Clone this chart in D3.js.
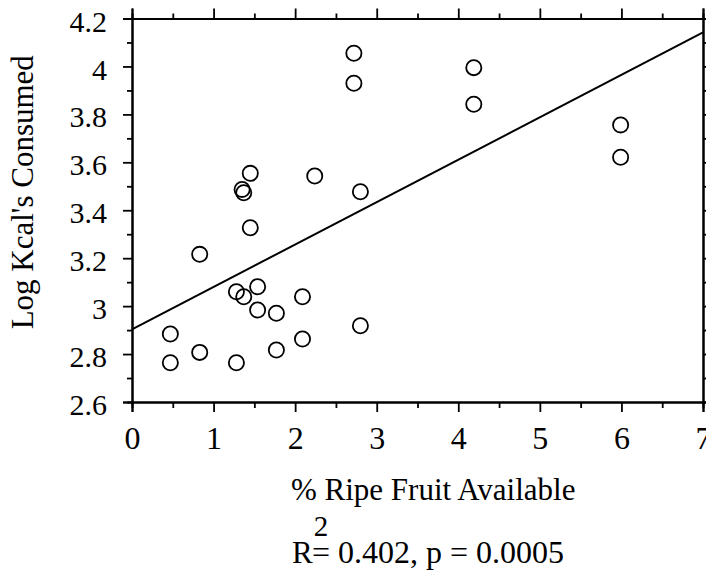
<!DOCTYPE html>
<html>
<head>
<meta charset="utf-8">
<script src="https://cdn.jsdelivr.net/npm/d3@7"></script>
<style>
  body { margin: 0; background: #fff; }
  text { font-family: "Liberation Serif", "Times New Roman", serif; fill: #000; }
</style>
</head>
<body>
<script>
var w = 706;
var h = 572;

// data
var fruit = [2.72, 2.72, 4.19, 4.19, 5.99, 5.99, 1.45, 1.35, 1.37, 2.24, 2.80, 1.45, 0.83,
             1.28, 1.37, 1.54, 1.54, 1.77, 2.09, 2.80, 0.47, 0.83, 0.47, 1.28, 1.77, 2.09];
var kcal  = [4.055, 3.930, 3.995, 3.842, 3.756, 3.621, 3.554, 3.487, 3.473, 3.543, 3.477, 3.327, 3.216,
             3.060, 3.039, 3.081, 2.984, 2.970, 3.039, 2.918, 2.884, 2.807, 2.764, 2.764, 2.817, 2.863];
var fitX = [0, 7];
var fitY = [2.903, 4.142];

var xTicks = [0, 1, 2, 3, 4, 5, 6, 7];
var xTickLabels = ["0", "1", "2", "3", "4", "5", "6", "7"];
var yTicks = [2.6, 2.8, 3.0, 3.2, 3.4, 3.6, 3.8, 4.0, 4.2];
var yTickLabels = ["2.6", "2.8", "3", "3.2", "3.4", "3.6", "3.8", "4", "4.2"];
var xMinor = [0.5, 1.5, 2.5, 3.5, 4.5, 5.5, 6.5];
var yMinor = [2.7, 2.9, 3.1, 3.3, 3.5, 3.7, 3.9, 4.1];

var pLeft = 132, pRight = 703, pTop = 18.5, pBottom = 402;

var svg = d3.select("body").append("svg")
    .attr("width", w)
    .attr("height", h);

var x = d3.scaleLinear().domain([0, 7]).range([pLeft, pRight]);
var y = d3.scaleLinear().domain([2.6, 4.2]).range([pBottom, pTop]);

function fmt(list, labels) {
    return function(d) { return labels[list.indexOf(d)]; };
}

// bottom axis with labels
var xAxis = svg.append("g")
    .attr("transform", "translate(0," + pBottom + ")")
    .call(d3.axisBottom(x).tickValues(xTicks).tickFormat(fmt(xTicks, xTickLabels))
        .tickSize(10).tickPadding(14));
// top axis, ticks only
svg.append("g")
    .attr("transform", "translate(0," + pTop + ")")
    .call(d3.axisTop(x).tickValues(xTicks).tickFormat("").tickSize(10));
// left axis
var yAxis = svg.append("g")
    .attr("transform", "translate(" + pLeft + ",0)")
    .call(d3.axisLeft(y).tickValues(yTicks).tickFormat(fmt(yTicks, yTickLabels))
        .tickSize(9).tickPadding(16));
// right axis
svg.append("g")
    .attr("transform", "translate(" + pRight + ",0)")
    .call(d3.axisRight(y).tickValues(yTicks).tickFormat("").tickSize(9));

// minor ticks
svg.append("g").attr("transform", "translate(0," + pBottom + ")")
    .call(d3.axisBottom(x).tickValues(xMinor).tickFormat("").tickSize(6));
svg.append("g").attr("transform", "translate(0," + pTop + ")")
    .call(d3.axisTop(x).tickValues(xMinor).tickFormat("").tickSize(5));
svg.append("g").attr("transform", "translate(" + pLeft + ",0)")
    .call(d3.axisLeft(y).tickValues(yMinor).tickFormat("").tickSize(5));
svg.append("g").attr("transform", "translate(" + pRight + ",0)")
    .call(d3.axisRight(y).tickValues(yMinor).tickFormat("").tickSize(5));

svg.selectAll(".domain").attr("stroke", "#000").attr("stroke-width", 2);
svg.selectAll(".tick line").attr("stroke", "#000").attr("stroke-width", 1.8);
svg.selectAll(".tick text").attr("fill", "#000").attr("font-family", null);
xAxis.selectAll(".tick text").style("font-size", "32px");
yAxis.selectAll(".tick text").style("font-size", "30px").attr("dy", "0.42em");

// regression line
svg.append("line")
    .attr("x1", x(fitX[0])).attr("y1", y(fitY[0]))
    .attr("x2", x(fitX[1])).attr("y2", y(fitY[1]))
    .attr("stroke", "#000").attr("stroke-width", 2);

// points
svg.selectAll(".pt")
    .data(fruit)
    .enter().append("circle")
    .attr("class", "pt")
    .attr("cx", function(d) { return x(d); })
    .attr("cy", function(d, i) { return y(kcal[i]); })
    .attr("r", 7.6)
    .attr("fill", "none")
    .attr("stroke", "#000")
    .attr("stroke-width", 1.8);

// axis titles
svg.append("text")
    .attr("transform", "translate(33," + ((pTop + pBottom) / 2 - 18) + ") rotate(-90)")
    .attr("text-anchor", "middle")
    .style("font-size", "31px")
    .text("Log Kcal's Consumed");

svg.append("text")
    .attr("x", 291).attr("y", 500)
    .style("font-size", "31px")
    .text("% Ripe Fruit Available");

svg.append("text")
    .attr("x", 292).attr("y", 563)
    .style("font-size", "31px")
    .text("R");
svg.append("text")
    .attr("x", 321).attr("y", 536)
    .attr("text-anchor", "middle")
    .style("font-size", "29px")
    .text("2");
svg.append("text")
    .attr("x", 312).attr("y", 563)
    .style("font-size", "32px")
    .text("= 0.402, p = 0.0005");
</script>
</body>
</html>
